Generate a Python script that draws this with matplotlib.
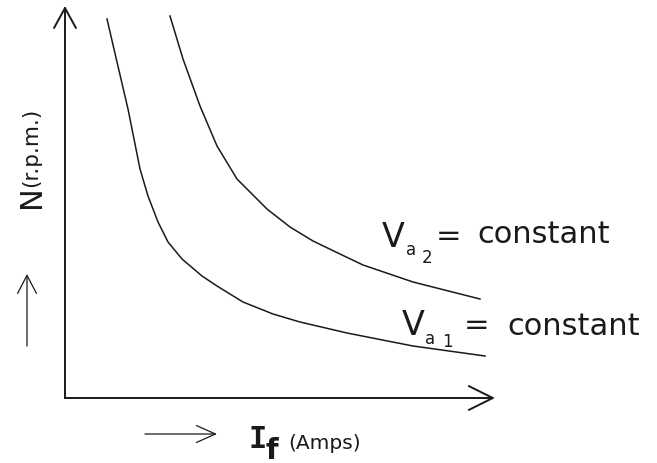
import matplotlib
matplotlib.use("Agg")
import matplotlib.pyplot as plt
from matplotlib.patches import ArrowStyle

# Curve data (I_f, N) in drawing units, origin at the axes corner
if_va1 = [42, 52, 63, 75, 83, 93, 103, 117, 137, 152, 178, 208, 235, 282, 348, 420]
n_va1 = [379, 336, 289, 229, 202, 176, 156, 139, 122, 112, 96, 84, 76, 65, 52, 42]
if_va2 = [105, 118, 135, 152, 172, 202, 225, 248, 275, 298, 348, 415]
n_va2 = [382, 339, 292, 252, 219, 189, 171, 157, 144, 133, 116, 99]

curve_labels = ["2", "1"]

fig = plt.figure(figsize=(6.57, 4.64), dpi=100)
ax = fig.add_axes([0, 0, 1, 1])
ax.set_xlim(-65, 592)
ax.set_ylim(-65, 399)
ax.axis("off")

ink = "#1a1a1a"

ax.plot(if_va1, n_va1, color=ink, lw=1.1)
ax.plot(if_va2, n_va2, color=ink, lw=1.1)


def arrow(x0, y0, x1, y1, L, W, lw):
    ax.annotate("", xy=(x1, y1), xytext=(x0, y0),
                arrowprops=dict(arrowstyle=ArrowStyle("->", head_length=L, head_width=W),
                                mutation_scale=1, color=ink, lw=lw,
                                shrinkA=0, shrinkB=0))


# main axes
arrow(0, 0, 0, 392, 14.4, 7.9, 1.4)
arrow(0, 0, 430, 0, 17.3, 8.6, 1.4)
# small direction arrows
arrow(-38, 52, -38, 124, 13, 6.8, 0.9)
arrow(80, -36, 152, -36, 13.7, 6.1, 0.9)

# axis labels
ax.text(192.5, -49, "I", fontsize=22, family="DejaVu Sans Mono", fontweight="bold",
        ha="center", va="baseline", color=ink)
ax.text(206.5, -60.5, "f", fontsize=21, family="DejaVu Sans", fontweight="bold",
        ha="center", va="baseline", color=ink)
ax.text(223, -50, "(Amps)", fontsize=14.5, ha="left", va="baseline", color=ink)

ax.text(-25, 191, "N", fontsize=22, rotation=90, rotation_mode="anchor",
        ha="left", va="baseline", color=ink)
ax.text(-27.5, 212, "(r.p.m.)", fontsize=15.5, rotation=90, rotation_mode="anchor",
        ha="left", va="baseline", color=ink)

# curve labels: Va2
ax.text(317, 152, "V", fontsize=24, ha="left", va="baseline", color=ink)
ax.text(341, 144, "a", fontsize=12, ha="left", va="baseline", color=ink)
ax.text(357, 136, curve_labels[0], fontsize=12, ha="left", va="baseline", color=ink)
ax.text(384, 154, "=", fontsize=22, ha="center", va="baseline", color=ink)
ax.text(412, 156, "constant", fontsize=22, ha="left", va="baseline", color=ink)

# Va1
ax.text(337, 64, "V", fontsize=24, ha="left", va="baseline", color=ink)
ax.text(360, 55, "a", fontsize=12, ha="left", va="baseline", color=ink)
ax.text(377, 52, curve_labels[1], fontsize=12, ha="left", va="baseline", color=ink)
ax.text(412, 65, "=", fontsize=22, ha="center", va="baseline", color=ink)
ax.text(442, 64, "constant", fontsize=22, ha="left", va="baseline", color=ink)

fig.savefig("out.png", dpi=100, facecolor="white")
